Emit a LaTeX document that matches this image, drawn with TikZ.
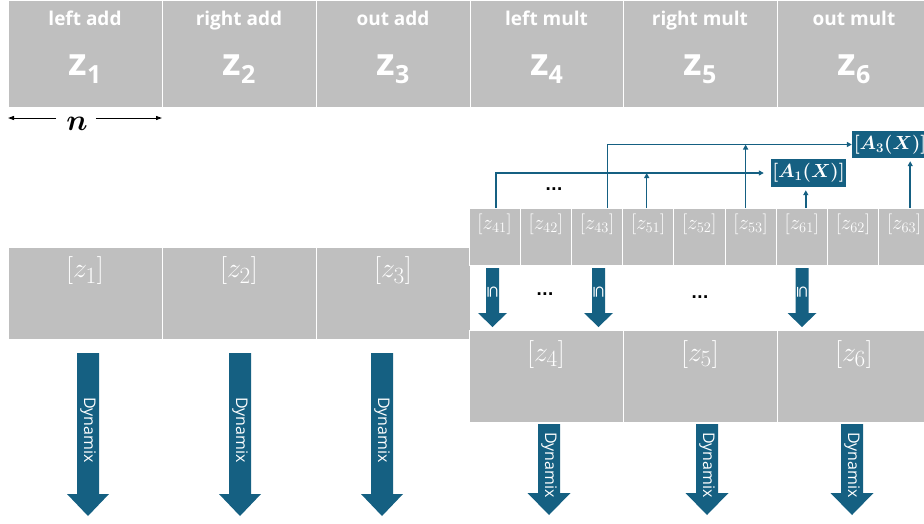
\documentclass[tikz,border=0pt]{standalone}
\usepackage{fontspec}
\setsansfont{Open Sans}
\newfontfamily\symfont{DejaVu Sans}
\usetikzlibrary{arrows.meta}
\definecolor{cellgray}{HTML}{BFBFBF}
\definecolor{navy}{HTML}{156082}
\newcommand{\blockarrow}[7]{% x, ytop, yneck, ytip, shaft half, head half, colour
  \fill[#7] (#1-#5,#2) -- (#1+#5,#2) -- (#1+#5,#3) -- (#1+#6,#3) -- (#1,#4) -- (#1-#6,#3) -- (#1-#5,#3) -- cycle;}
\begin{document}
\begin{tikzpicture}[x=1pt,y=-1pt,
  cellbox/.style={draw=white,line width=1pt,fill=cellgray,inner sep=0pt,outer sep=0pt,anchor=north west},
  toplab/.style={text=white,font=\sffamily\bfseries\fontsize{19}{19}\selectfont,anchor=base,inner sep=0pt},
  bigz/.style={text=white,font=\sffamily\bfseries\fontsize{38}{38}\selectfont,anchor=base,inner sep=0pt},
  biglab/.style={text=white,font=\fontsize{24.88}{25}\selectfont,inner sep=0pt,scale=1.12},
  smalllab/.style={text=white,font=\fontsize{20.74}{21}\selectfont,inner sep=0pt},
  abox/.style={fill=navy,text=white,font=\fontsize{17.28}{18}\selectfont\boldmath,inner sep=0pt,minimum height=28pt},
  conn/.style={draw=navy,line width=1.5pt,-{Triangle[length=5pt,width=5pt]}},
  narr/.style={draw=black,line width=1pt,-{Triangle[length=6pt,width=4pt]}},
  dyn/.style={text=white,font=\sffamily\fontsize{16}{16}\selectfont,inner sep=0pt,rotate=-90},
  subs/.style={text=white,font=\symfont\fontsize{16}{16}\selectfont,inner sep=0pt,rotate=-90},
  dots/.style={font=\symfont\bfseries\fontsize{15}{15}\selectfont,inner sep=0pt}]
\useasboundingbox (0,0) rectangle (924,523);

% top row
\node[cellbox,minimum width=154pt,minimum height=107pt] (t1) at (8,0) {};
\node[cellbox,minimum width=154pt,minimum height=107pt] (t2) at (162,0) {};
\node[cellbox,minimum width=154pt,minimum height=107pt] (t3) at (316,0) {};
\node[cellbox,minimum width=153pt,minimum height=107pt] (t4) at (470,0) {};
\node[cellbox,minimum width=154pt,minimum height=107pt] (t5) at (623,0) {};
\node[cellbox,minimum width=154pt,minimum height=107pt] (t6) at (777,0) {};
\node[toplab] (l1) at (85,25) {left add};
\node[toplab] (l2) at (239,25) {right add};
\node[toplab] (l3) at (393,25) {out add};
\node[toplab] (l4) at (546.5,25) {left mult};
\node[toplab] (l5) at (700,25) {right mult};
\node[toplab] (l6) at (854,25) {out mult};
\node[bigz] (z1) at (85,75) {z\raisebox{-8pt}{\fontsize{25}{25}\selectfont 1}};
\node[bigz] (z2) at (239,75) {z\raisebox{-8pt}{\fontsize{25}{25}\selectfont 2}};
\node[bigz] (z3) at (393,75) {z\raisebox{-8pt}{\fontsize{25}{25}\selectfont 3}};
\node[bigz] (z4) at (546.5,75) {z\raisebox{-8pt}{\fontsize{25}{25}\selectfont 4}};
\node[bigz] (z5) at (700,75) {z\raisebox{-8pt}{\fontsize{25}{25}\selectfont 5}};
\node[bigz] (z6) at (854,75) {z\raisebox{-8pt}{\fontsize{25}{25}\selectfont 6}};

% n arrow
\coordinate (nl) at (8,118);
\coordinate (nr) at (162,118);
\node[font=\fontsize{24.88}{25}\selectfont\boldmath,inner sep=0pt,anchor=base,scale=1.2] (nn) at (77,130) {$n$};
\draw[narr] (nl -| nn.west) ++(-10,0) -- (nl);
\draw[narr] (nr -| nn.east) ++(8,0) -- (nr);

% middle left cells
\node[cellbox,minimum width=154pt,minimum height=92pt] (m1) at (8,247) {};
\node[cellbox,minimum width=154pt,minimum height=92pt] (m2) at (162,247) {};
\node[cellbox,minimum width=154pt,minimum height=92pt] (m3) at (316,247) {};
\node[biglab] (ml1) at (85,271) {$[z_{1}]$};
\node[biglab] (ml2) at (239,271) {$[z_{2}]$};
\node[biglab] (ml3) at (393,271) {$[z_{3}]$};

% bottom right cells
\node[cellbox,minimum width=154pt,minimum height=92pt] (b4) at (469,330) {};
\node[cellbox,minimum width=154pt,minimum height=92pt] (b5) at (623,330) {};
\node[cellbox,minimum width=154pt,minimum height=92pt] (b6) at (777,330) {};
\node[biglab] (bl4) at (546,354.5) {$[z_{4}]$};
\node[biglab] (bl5) at (700,354.5) {$[z_{5}]$};
\node[biglab] (bl6) at (854,354.5) {$[z_{6}]$};

% small cells
\node[cellbox,minimum width=51.2pt,minimum height=57pt] (s41) at (469,208) {};
\node[cellbox,minimum width=51.2pt,minimum height=57pt] (s42) at (520.2,208) {};
\node[cellbox,minimum width=51.2pt,minimum height=57pt] (s43) at (571.4,208) {};
\node[cellbox,minimum width=51.2pt,minimum height=57pt] (s51) at (622.6,208) {};
\node[cellbox,minimum width=51.2pt,minimum height=57pt] (s52) at (673.8,208) {};
\node[cellbox,minimum width=51.2pt,minimum height=57pt] (s53) at (725,208) {};
\node[cellbox,minimum width=51.2pt,minimum height=57pt] (s61) at (776.2,208) {};
\node[cellbox,minimum width=51.2pt,minimum height=57pt] (s62) at (827.4,208) {};
\node[cellbox,minimum width=51.2pt,minimum height=57pt] (s63) at (878.6,208) {};
\node[smalllab] (c41) at (494.6,224.5) {$[z_{41}]$};
\node[smalllab] (c42) at (545.8,224.5) {$[z_{42}]$};
\node[smalllab] (c43) at (597.0,224.5) {$[z_{43}]$};
\node[smalllab] (c51) at (648.2,224.5) {$[z_{51}]$};
\node[smalllab] (c52) at (699.4,224.5) {$[z_{52}]$};
\node[smalllab] (c53) at (750.6,224.5) {$[z_{53}]$};
\node[smalllab] (c61) at (801.8,224.5) {$[z_{61}]$};
\node[smalllab] (c62) at (853.0,224.5) {$[z_{62}]$};
\node[smalllab] (c63) at (904.2,224.5) {$[z_{63}]$};

% A boxes
\node[abox,minimum width=75pt] (A1) at (808.5,173) {\scalebox{1.1}{$[A_{1}(X)]$}};
\node[abox,minimum width=76pt,minimum height=27pt] (A3) at (890,144.5) {\scalebox{1.1}{$[A_{3}(X)]$}};

% connectors
\draw[conn,shorten >=7pt] ([xshift=1.5pt]s41.north) |- (A1.west);
\draw[conn] ([xshift=10.5pt]s43.north) |- (A3.west);
\draw[conn] ([xshift=-1.5pt]s51.north) -- ([xshift=-1.5pt]s51.north |- A1.west);
\draw[conn] ([xshift=-5pt]s53.north) -- ([xshift=-5pt]s53.north |- A3.west);
\draw[conn,shorten >=3pt] ([xshift=4pt]s61.north) -- ([xshift=4pt]s61.north |- A1.south);
\draw[conn,shorten >=3pt] ([xshift=6pt]s63.north) -- ([xshift=6pt]s63.north |- A3.south);

% dots
\node[dots] (d1) at (554,189) {...};
\node[dots] (d2) at (545,294) {...};
\node[dots] (d3) at (700,297) {...};

% subset arrows
\blockarrow{492.5}{268}{313}{327}{6.5}{14.5}{navy}
\blockarrow{598.5}{268}{313}{327}{6.5}{14.5}{navy}
\blockarrow{802}{268}{313}{327}{6.5}{14.5}{navy}
\node[subs] (u1) at (492.5,292) {⊆};
\node[subs] (u2) at (598.5,292) {⊆};
\node[subs] (u3) at (802,292) {⊆};

% dynamix arrows left
\blockarrow{88}{353}{494}{516}{11}{21}{navy}
\blockarrow{240}{353}{494}{516}{11}{21}{navy}
\blockarrow{382}{353}{494}{516}{11}{21}{navy}
\node[dyn] (dy1) at (88,430) {Dynamix};
\node[dyn] (dy2) at (240,430) {Dynamix};
\node[dyn] (dy3) at (382,430) {Dynamix};

% dynamix arrows right
\blockarrow{549}{424}{493}{515}{11}{21.5}{navy}
\blockarrow{707}{424}{493}{515}{11}{21.5}{navy}
\blockarrow{852}{424}{493}{515}{11}{21.5}{navy}
\node[dyn] (dy4) at (549,465) {Dynamix};
\node[dyn] (dy5) at (707,465) {Dynamix};
\node[dyn] (dy6) at (852,465) {Dynamix};
\end{tikzpicture}
\end{document}
